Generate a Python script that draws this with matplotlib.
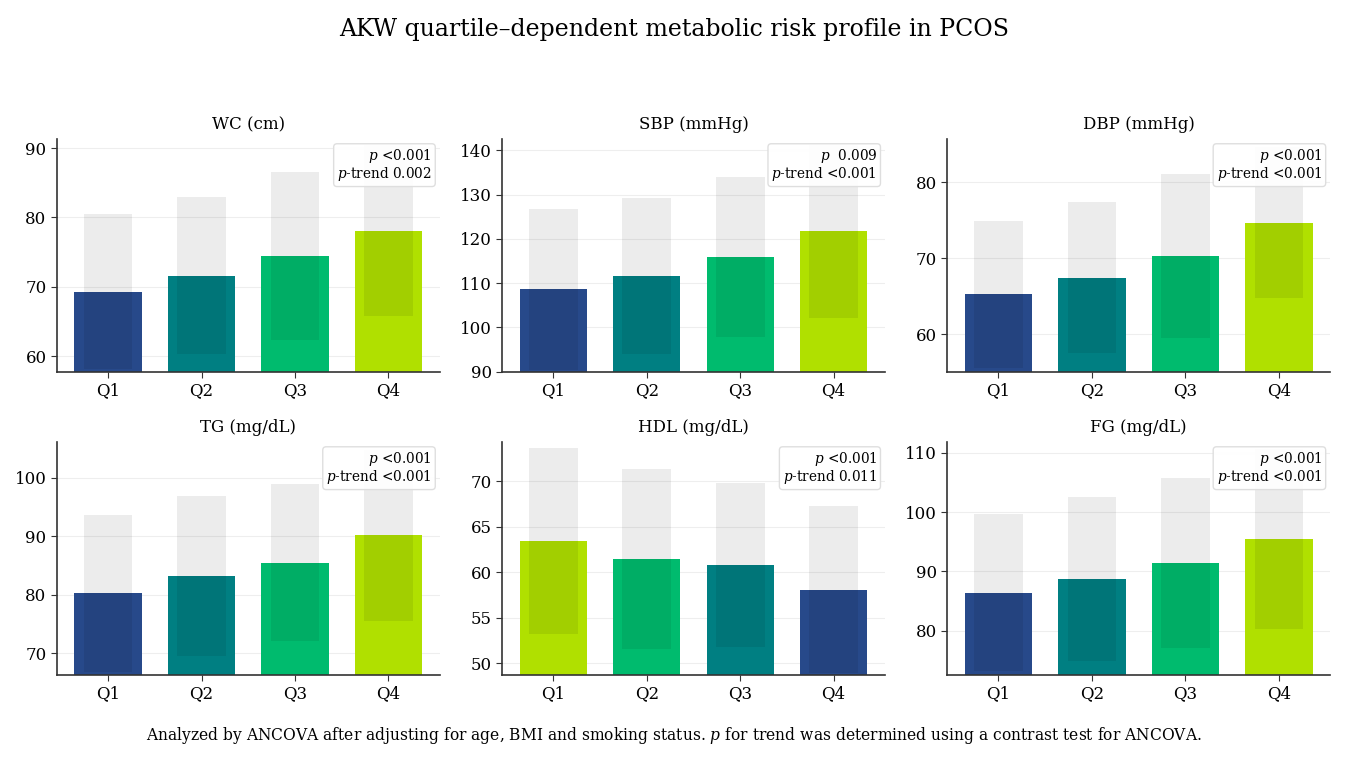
import numpy as np
import matplotlib
matplotlib.use("Agg")
import matplotlib.pyplot as plt

plt.rcParams["font.family"] = ["DejaVu Serif"]
plt.rcParams["mathtext.fontset"] = "dejavuserif"

quartiles = ["Q1", "Q2", "Q3", "Q4"]

titles = ["WC (cm)", "SBP (mmHg)", "DBP (mmHg)",
          "TG (mg/dL)", "HDL (mg/dL)", "FG (mg/dL)"]

wc_mean = [69.3, 71.6, 74.45, 78.1]
wc_sd = [11.2, 11.3, 12.1, 12.3]
sbp_mean = [108.6, 111.6, 116.0, 121.7]
sbp_sd = [18.2, 17.6, 18.1, 19.6]
dbp_mean = [65.25, 67.4, 70.3, 74.7]
dbp_sd = [9.7, 9.95, 10.85, 9.9]
tg_mean = [80.25, 83.25, 85.5, 90.15]
tg_sd = [13.45, 13.6, 13.4, 14.65]
hdl_mean = [63.45, 61.45, 60.8, 58.1]
hdl_sd = [10.2, 9.9, 9.05, 9.15]
fg_mean = [86.45, 88.8, 91.45, 95.55]
fg_sd = [13.15, 13.8, 14.3, 15.15]

p_overall = [" <0.001", "  0.009", " <0.001", " <0.001", " <0.001", " <0.001"]
p_trend = ["0.002", "<0.001", "<0.001", "<0.001", "0.011", "<0.001"]

ylims = [(57.7, 91.3), (89.9, 142.6), (55.0, 85.7),
         (66.3, 106.1), (48.7, 74.3), (72.55, 111.8)]
yticks = [[60, 70, 80, 90], [90, 100, 110, 120, 130, 140], [60, 70, 80],
          [70, 80, 90, 100], [50, 55, 60, 65, 70], [80, 90, 100, 110]]

means = [wc_mean, sbp_mean, dbp_mean, tg_mean, hdl_mean, fg_mean]
sds = [wc_sd, sbp_sd, dbp_sd, tg_sd, hdl_sd, fg_sd]

palette = ["#27498a", "#007f82", "#00bb6e", "#b0e000"]

fig = plt.figure(figsize=(13.48, 7.62), dpi=100)
gs = fig.add_gridspec(2, 3, left=0.0423, right=0.9866, top=0.8176,
                      bottom=0.114, wspace=0.164, hspace=0.30)

x = np.arange(len(quartiles))
for k in range(6):
    ax = fig.add_subplot(gs[k // 3, k % 3])
    m = np.array(means[k])
    s = np.array(sds[k])
    # colour by rank of the mean: lowest -> dark blue, highest -> lime
    ranks = np.argsort(np.argsort(m))
    cols = [palette[r] for r in ranks]
    ax.bar(x, m, width=0.72, color=cols, zorder=2)
    ax.bar(x, 2 * s, bottom=m - s, width=0.52, color="black",
           alpha=0.075, zorder=3, linewidth=0)
    ax.set_xticks(x)
    ax.set_xticklabels(quartiles)
    ax.set_ylim(*ylims[k])
    ax.set_yticks(yticks[k])
    ax.tick_params(labelsize=12, color="#333333", length=4)
    ax.set_title(titles[k], fontsize=12, pad=7)
    ax.grid(axis="y", color="#eeeeee", linewidth=0.8, zorder=0)
    ax.set_axisbelow(True)
    for side in ["top", "right"]:
        ax.spines[side].set_visible(False)
    for side in ["left", "bottom"]:
        ax.spines[side].set_color("#333333")
        ax.spines[side].set_linewidth(1.2)
    txt = f"$p${p_overall[k]}\n$p$-trend {p_trend[k]}"
    ax.text(0.98, 0.965, txt, transform=ax.transAxes, ha="right", va="top",
            fontsize=9.8, linespacing=1.0, zorder=5,
            bbox=dict(boxstyle="round,pad=0.25", facecolor="white",
                      edgecolor="#dddddd", alpha=0.95))

fig.suptitle("AKW quartile\u2013dependent metabolic risk profile in PCOS",
             fontsize=17.0, y=0.977)
fig.text(0.5, 0.035,
         "Analyzed by ANCOVA after adjusting for age, BMI and smoking status. "
         "$p$ for trend was determined using a contrast test for ANCOVA.",
         ha="center", va="center", fontsize=11.2)

fig.savefig("out.png", dpi=100)
